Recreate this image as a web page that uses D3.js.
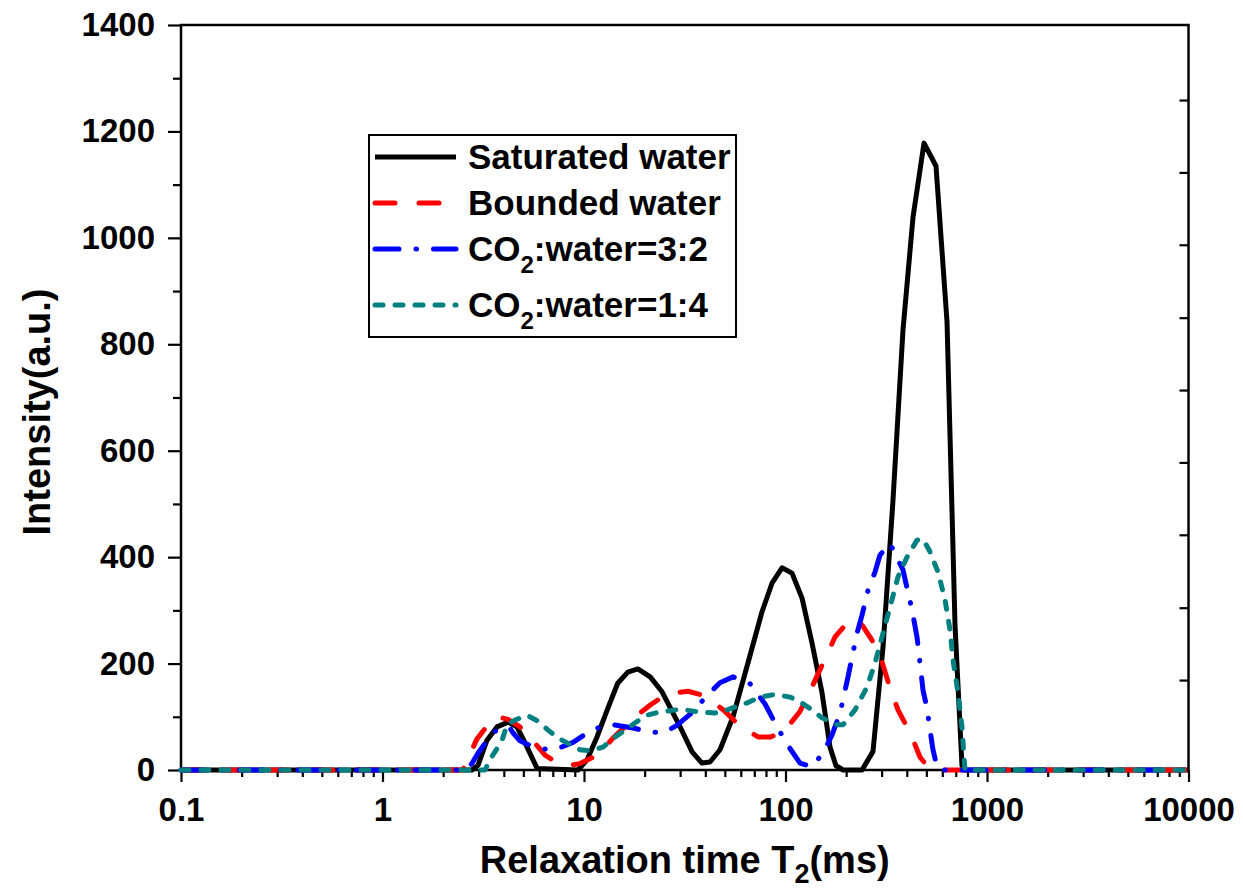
<!DOCTYPE html>
<html>
<head>
<meta charset="utf-8">
<script src="https://cdn.jsdelivr.net/npm/d3@7"></script>
<style>
  body { margin: 0; background: #fff; }
  text { font-family: "Liberation Sans", Arial, sans-serif; font-weight: bold; fill: #000; }
</style>
</head>
<body>
<script>
// T2 relaxation time (ms) and intensity (a.u.)
var satTime = [0.1, 2.78, 2.98, 3.30, 3.70, 4.20, 4.65, 5.10, 5.85, 9.34, 10.35, 11.6, 13.2, 14.7, 16.5, 18.5, 21.3, 24.4, 30.0, 34.4, 38.5, 42.2, 47.3, 54.9, 65.1, 76.4, 85.7, 96.1, 107.7, 120.8, 135.3, 151.8, 166.3, 178.1, 193, 239.8, 271.8, 304.8, 341.6, 382.9, 429.4, 486.8, 558.3, 633.3, 693.9, 751.4, 777.7, 10000];
var satInt  = [0, 0, 9, 56, 81, 90, 81, 51, 3, 0, 19, 62, 118, 163, 184, 190, 175, 147, 81, 34, 13, 15, 38, 100, 201, 297, 351, 380, 370, 323, 239, 145, 43, 8, 0, 0, 35, 231, 507, 827, 1039, 1178, 1135, 842, 272, 8, 0, 0];

var boundTime = [0.1, 2.51, 2.72, 2.94, 3.34, 3.74, 4.20, 4.81, 5.58, 6.41, 7.35, 8.23, 9.55, 11.08, 12.0, 13.93, 16.35, 18.96, 21.5, 24.4, 28.3, 32.8, 37.6, 42.2, 49.5, 57.4, 65.1, 73.0, 83.8, 97.2, 118.0, 135.3, 153.6, 176.1, 197.4, 221.3, 242.5, 268.7, 301.3, 330.1, 361.7, 391.7, 424.5, 465.1, 509.6, 552.1, 10000];
var boundInt  = [0, 0, 30, 58, 85, 100, 95, 81, 55, 28, 14, 8, 12, 24, 32, 60, 85, 107, 123, 137, 145, 148, 142, 132, 112, 88, 74, 62, 62, 70, 110, 156, 201, 250, 272, 285, 270, 244, 203, 154, 113, 88, 62, 24, 6, 0, 0];

var co32Time = [0.1, 2.57, 2.78, 2.98, 3.30, 3.53, 3.92, 4.29, 4.44, 4.81, 5.40, 6.05, 7.18, 8.82, 10.71, 12.43, 13.93, 17.51, 21.3, 25.2, 28.9, 34.4, 40.8, 47.3, 54.9, 66.7, 79.2, 90.8, 102.9, 118.0, 135.3, 153.6, 170.2, 186.5, 204.3, 226.4, 239.8, 256.8, 278.1, 294.4, 330.1, 382.9, 400.9, 424.5, 449.4, 465.1, 481.3, 503.8, 521.4, 539.5, 564.9, 584.6, 10000];
var co32Int  = [0, 0, 12, 32, 55, 70, 80, 79, 70, 55, 46, 40, 38, 52, 73, 83, 85, 79, 71, 71, 84, 108, 140, 164, 175, 162, 124, 81, 46, 13, 6, 32, 66, 107, 175, 257, 291, 338, 372, 404, 426, 376, 342, 301, 250, 201, 150, 116, 75, 38, 6, 0, 0];

var co14Time = [0.1, 3.23, 3.42, 3.70, 3.92, 4.15, 4.55, 5.21, 5.91, 6.63, 7.43, 8.52, 9.55, 10.71, 12.43, 14.25, 15.98, 18.3, 20.5, 23.8, 30.0, 37.6, 44.7, 51.3, 64.4, 74.7, 88.7, 105.3, 118.0, 135.3, 151.8, 180.2, 193.0, 221.3, 253.8, 278.1, 304.8, 337.7, 361.7, 400.9, 449.4, 481.3, 521.4, 571.4, 618.8, 655.3, 678.1, 717.9, 751.4, 768.9, 777.7, 10000];
var co14Int  = [0, 0, 20, 40, 56, 85, 94, 103, 92, 75, 60, 48, 38, 36, 43, 62, 75, 91, 103, 109, 114, 109, 107, 113, 126, 137, 142, 137, 128, 113, 98, 85, 85, 113, 156, 201, 257, 320, 363, 400, 432, 434, 410, 372, 320, 263, 207, 145, 81, 24, 0, 0];

var seriesNames = ["Saturated water", "Bounded water", "CO2:water=3:2", "CO2:water=1:4"];
var xTickValues = [0.1, 1, 10, 100, 1000, 10000];
var xTickLabels = ["0.1", "1", "10", "100", "1000", "10000"];
var yTickValues = [0, 200, 400, 600, 800, 1000, 1200, 1400];
var yMinorValues = [100, 300, 500, 700, 900, 1100, 1300];
var rightTickValues = [169, 305, 442, 578, 714, 850, 987, 1123, 1259];

var margin = { top: 25, right: 54.5, bottom: 124, left: 181 },
    width = 1243 - margin.left - margin.right,
    height = 894 - margin.top - margin.bottom;

var svg = d3.select("body").append("svg")
    .attr("width", 1243)
    .attr("height", 894);

var g = svg.append("g")
    .attr("transform", "translate(" + margin.left + "," + margin.top + ")");

var x = d3.scaleLog().domain([0.1, 10000]).range([0, width]);
var y = d3.scaleLinear().domain([0, 1400]).range([height, 0]);

// minor ticks on the log axis
var xMinorValues = [];
[0.1, 1, 10, 100, 1000].forEach(function(dec) {
    for (var k = 2; k <= 9; k++) xMinorValues.push(+(dec * k).toPrecision(3));
});

function styleAxis(sel) {
    sel.select(".domain").remove();
    sel.selectAll(".tick line").attr("stroke", "#000").attr("stroke-width", 2.2);
    sel.selectAll(".tick text")
        .style("font-family", "'Liberation Sans', Arial, sans-serif")
        .style("font-weight", "bold")
        .style("font-size", "33px")
        .attr("fill", "#000");
}

// bottom axis
g.append("g")
    .attr("transform", "translate(0," + height + ")")
    .call(d3.axisBottom(x).tickValues(xMinorValues).tickSize(7).tickFormat(""))
    .call(styleAxis);
g.append("g")
    .attr("transform", "translate(0," + height + ")")
    .call(d3.axisBottom(x).tickValues(xTickValues).tickSize(12).tickPadding(16)
        .tickFormat(function(d, i) { return xTickLabels[i]; }))
    .call(styleAxis);

// left axis
g.append("g")
    .call(d3.axisLeft(y).tickValues(yMinorValues).tickSize(8).tickFormat(""))
    .call(styleAxis);
g.append("g")
    .call(d3.axisLeft(y).tickValues(yTickValues).tickSize(13).tickPadding(13)
        .tickFormat(d3.format("d")))
    .call(styleAxis);

// right axis, ticks pointing inward, no labels
g.append("g")
    .attr("transform", "translate(" + width + ",0)")
    .call(d3.axisLeft(y).tickValues(rightTickValues).tickSize(9).tickFormat(""))
    .call(styleAxis);

// frame
g.append("rect")
    .attr("x", 0).attr("y", 0)
    .attr("width", width).attr("height", height)
    .attr("fill", "none")
    .attr("stroke", "#000")
    .attr("stroke-width", 2.5);

var styles = [
    { color: "#000000", dash: null },
    { color: "#ff0000", dash: "20,24" },
    { color: "#0000ff", dash: "24,17,0.5,17" },
    { color: "#008080", dash: "8,12" }
];

var allSeries = [
    d3.zip(satTime, satInt),
    d3.zip(boundTime, boundInt),
    d3.zip(co32Time, co32Int),
    d3.zip(co14Time, co14Int)
];

var line = d3.line()
    .x(function(d) { return x(d[0]); })
    .y(function(d) { return y(d[1]); });

allSeries.forEach(function(data, i) {
    g.append("path")
        .datum(data)
        .attr("d", line)
        .attr("fill", "none")
        .attr("stroke", styles[i].color)
        .attr("stroke-width", 5)
        .attr("stroke-linejoin", "round")
        .attr("stroke-linecap", styles[i].dash ? "round" : "butt")
        .attr("stroke-dasharray", styles[i].dash);
});

// axis titles
var xt = svg.append("text")
    .attr("x", margin.left + width / 2)
    .attr("y", 873)
    .attr("text-anchor", "middle")
    .style("font-size", "38px");
xt.append("tspan").text("Relaxation time T");
xt.append("tspan").attr("dy", 10).style("font-size", "27px").text("2");
xt.append("tspan").attr("dy", -10).text("(ms)");

svg.append("text")
    .attr("transform", "translate(50," + 412 + ") rotate(-90)")
    .attr("text-anchor", "middle")
    .style("font-size", "38px")
    .text("Intensity(a.u.)");

// legend
var legend = svg.append("g");
legend.append("rect")
    .attr("x", 369).attr("y", 135)
    .attr("width", 367).attr("height", 202)
    .attr("fill", "#fff")
    .attr("stroke", "#000")
    .attr("stroke-width", 2);

var rowY = [157, 203, 249, 305];
seriesNames.forEach(function(name, i) {
    legend.append("line")
        .attr("x1", 375).attr("x2", 456)
        .attr("y1", rowY[i]).attr("y2", rowY[i])
        .attr("stroke", styles[i].color)
        .attr("stroke-width", 5)
        .attr("stroke-linecap", styles[i].dash ? "round" : "butt")
        .attr("stroke-dasharray", styles[i].dash);
    var t = legend.append("text")
        .attr("x", 468)
        .attr("y", rowY[i] + 12)
        .style("font-size", "35px");
    if (name.indexOf("CO2") === 0) {
        t.append("tspan").text("CO");
        t.append("tspan").attr("dy", 12).style("font-size", "24px").text("2");
        t.append("tspan").attr("dy", -12).text(name.slice(3));
    } else {
        t.text(name);
    }
});
</script>
</body>
</html>
